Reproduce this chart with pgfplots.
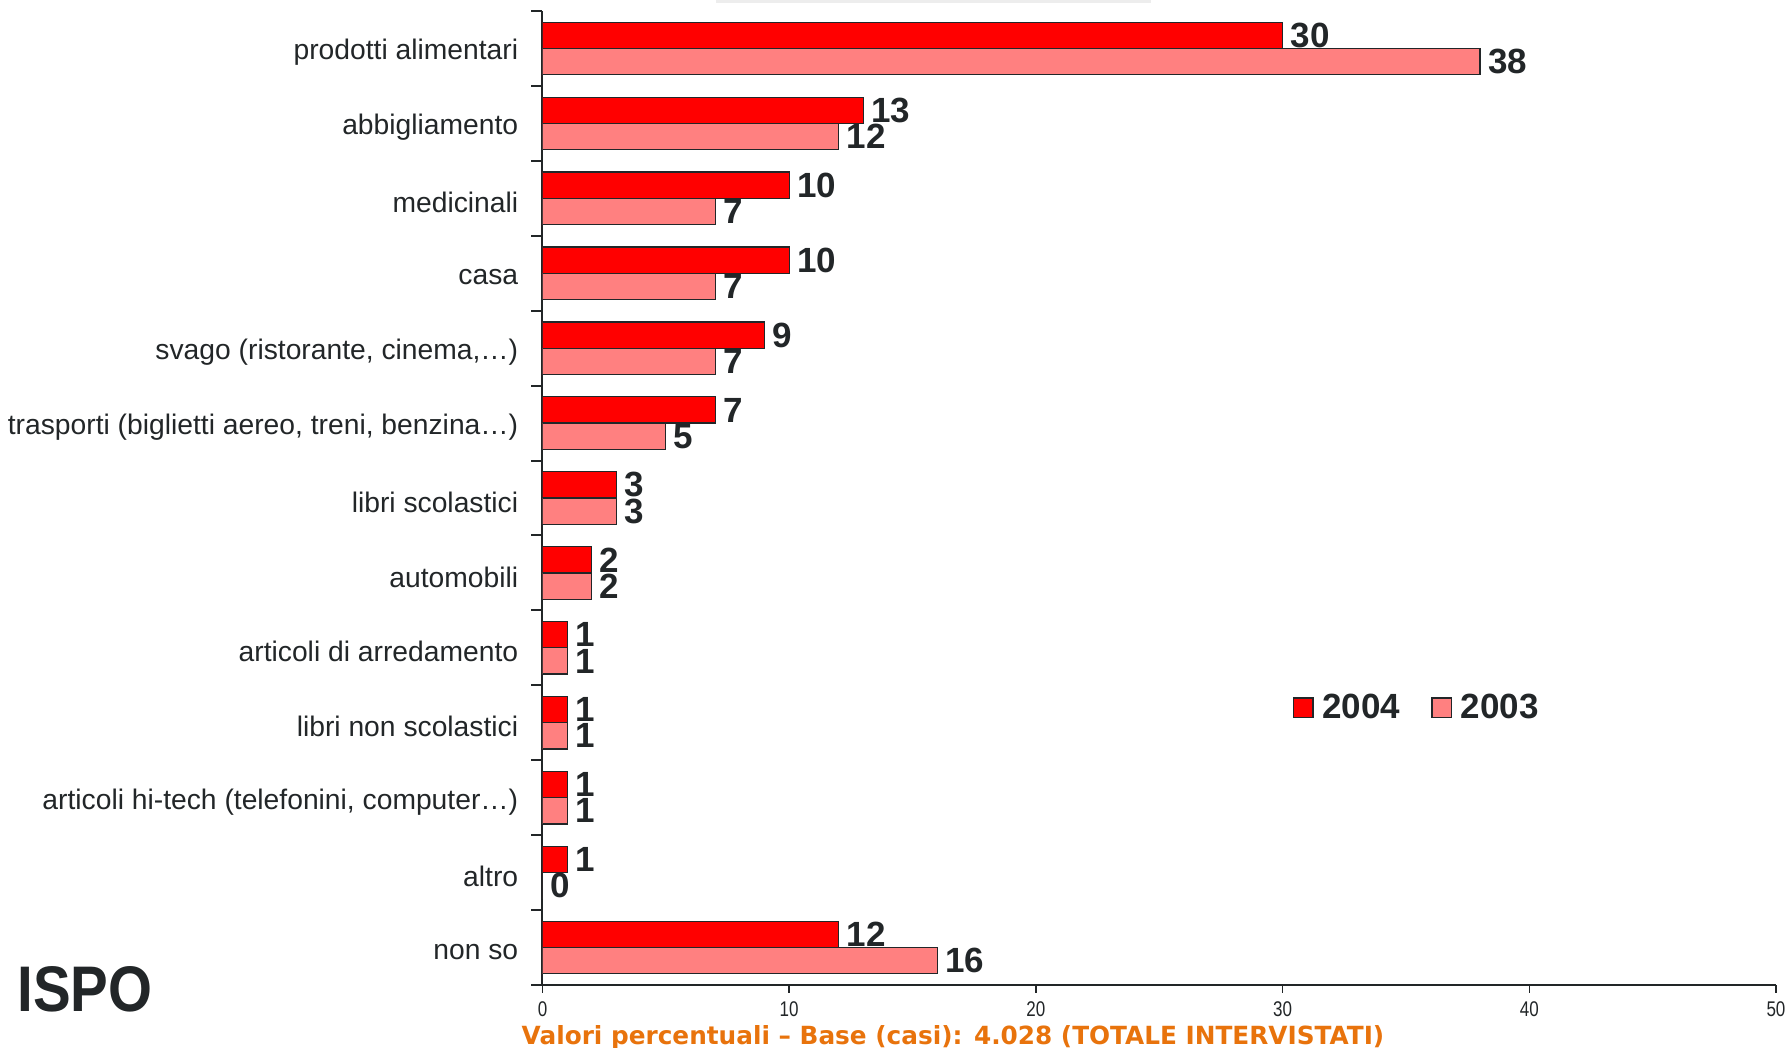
\documentclass[border=0pt]{standalone}
\usepackage{pgfplots}
\pgfplotsset{compat=1.18}
\usepackage{graphicx}
\usepackage{fontspec}
\setmainfont{Liberation Sans}
\newfontfamily\narrowsans[FakeStretch=0.8]{Liberation Sans}
\newfontfamily\footfont[FakeStretch=1.0]{DejaVu Sans}
\definecolor{red04}{HTML}{FF0000}
\definecolor{pink03}{HTML}{FF8080}
\definecolor{txt}{HTML}{222628}
\definecolor{orangefoot}{HTML}{E8730C}
\begin{document}
\begin{tikzpicture}
\path[use as bounding box] (0,0) rectangle (714.8pt,418.8pt);
\clip (0,0) rectangle (714.8pt,418.8pt);
\fill[black!7] (286.4pt,418.8pt) rectangle (460.4pt,417.4pt);
\begin{axis}[
  at={(217pt,24.8pt)}, anchor=south west,
  scale only axis, width=493.4pt, height=389.6pt,
  xbar, bar width=0.35,
  xmin=0, xmax=50, ymin=-0.5, ymax=12.5,
  axis x line*=bottom, axis y line*=left,
  axis line style={draw=txt, line width=0.8pt},
  xtick={0,10,...,50},
  ytick={0,...,12},
  yticklabels={{non so},{altro},{articoli hi-tech (telefonini, computer…)},{libri non scolastici},{articoli di arredamento},{automobili},{libri scolastici},{trasporti (biglietti aereo, treni, benzina…)},{svago (ristorante, cinema,…)},{casa},{medicinali},{abbigliamento},{prodotti alimentari}},
  minor ytick={-0.5,0.5,...,12.5},
  tick align=outside,
  major tick length=3pt, minor tick length=4.5pt,
  major y tick style={draw=none},
  minor y tick style={draw=txt, line width=0.8pt},
  major x tick style={draw=txt, line width=0.6pt},
  /pgf/number format/assume math mode=true,
  xticklabel style={font=\narrowsans\fontsize{8.5}{10}\selectfont, text=txt},
  yticklabel style={font=\fontsize{11.3}{13}\selectfont, text=txt, xshift=-3.2pt, yshift=-1.6pt},
  nodes near coords,
  nodes near coords style={font=\bfseries\fontsize{14}{16}\selectfont, text=txt, anchor=west, inner sep=0pt, xshift=3pt},
  every axis plot/.append style={draw=txt, line width=0.5pt},
  legend style={at={(axis cs:30.09,3.2)}, anchor=west, draw=none, fill=none, legend columns=2,
    font=\bfseries\fontsize{14}{16}\selectfont, text=txt,
    /tikz/every even column/.append style={column sep=10.4pt}},
  legend image code/.code={\path[draw=none, fill=none] (0pt,0pt) -- (9.6pt,0pt); \draw[#1] (0pt,-3.9pt) rectangle (7.8pt,3.9pt);},
]
\addplot[fill=red04, bar shift=0.175] coordinates {
(12,0) (1,1) (1,2) (1,3) (1,4) (2,5) (3,6) (7,7) (9,8) (10,9) (10,10) (13,11) (30,12)};
\addplot[fill=pink03, bar shift=-0.175] coordinates {
(16,0) (0,1) (1,2) (1,3) (1,4) (2,5) (3,6) (5,7) (7,8) (7,9) (7,10) (12,11) (38,12)};
\legend{2004,2003}
\end{axis}
\node[anchor=base west, inner sep=0pt, text=txt] at (6.8pt,14.4pt) {\resizebox{54pt}{18pt}{\bfseries ISPO}};
\node[anchor=base, inner sep=0pt, text=orangefoot] at (381.2pt,1.2pt) {\resizebox{345pt}{\height}{\footfont\bfseries\fontsize{10}{12}\selectfont Valori percentuali – Base (casi): 4.028 (TOTALE INTERVISTATI)}};
\end{tikzpicture}
\end{document}
